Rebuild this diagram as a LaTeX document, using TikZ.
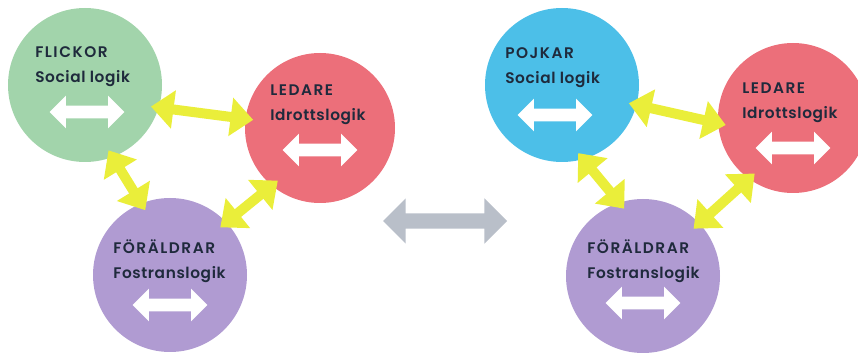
\documentclass[tikz,border=0pt]{standalone}
\usepackage{fontspec}
\setmainfont{Poppins}[BoldFont=Poppins SemiBold]
\usetikzlibrary{arrows.meta,shapes.arrows}

\definecolor{girlgreen}{HTML}{A2D4AB}
\definecolor{leadred}{HTML}{EC6F7A}
\definecolor{parentlilac}{HTML}{B09BD2}
\definecolor{boyblue}{HTML}{4CBFE8}
\definecolor{linkyellow}{HTML}{EAEE3A}
\definecolor{swapgrey}{HTML}{B9BFC9}
\definecolor{textnavy}{HTML}{1F2A3C}

\tikzset{
  party/.style={circle, fill=#1, minimum size=154pt*0.75, inner sep=0pt},
  title/.style={anchor=base west, inner sep=0pt, text=textnavy, font=\fontsize{11.5}{14}\selectfont\bfseries\addfontfeature{LetterSpace=4}},
  caps/.style={title, font=\fontsize{11.5}{14}\selectfont\bfseries\addfontfeature{LetterSpace=10}},
  swap/.style={double arrow, fill=white, minimum height=56pt, inner sep=4.5pt, double arrow head extend=7.5pt},
  link/.style={draw=linkyellow, line width=7.5pt, {Triangle[length=17pt,width=28pt]}-{Triangle[length=17pt,width=28pt]}, shorten <=-6pt, shorten >=-6pt},
}

\begin{document}
\begin{tikzpicture}[x=0.75pt,y=0.75pt,yscale=-1,xscale=1]
  \useasboundingbox (0,0) rectangle (858,356);

  %Circles, left side
  \node[party=girlgreen] (flick) at (85,85) {};
  \node[party=leadred, minimum size=150pt*0.75] (led1) at (320,128) {};
  \node[party=parentlilac] (fora1) at (170,275) {};
  %Circles, right side
  \node[party=boyblue] (pojk) at (562,85) {};
  \node[party=leadred, minimum size=150pt*0.75] (led2) at (793,118) {};
  \node[party=parentlilac] (fora2) at (643,276) {};

  %Yellow links
  \draw[link] (flick.-17) -- (led1.173);
  \draw[link] (flick.-69) -- (fora1.112);
  \draw[link] (led1.230) -- (fora1.43);
  \draw[link] (pojk.-15) -- (led2.184);
  \draw[link] (pojk.-74) -- (fora2.108);
  \draw[link] (led2.234) -- (fora2.43);

  % Text Node
  \node[caps] (flicka) at ([shift={(-50,-27)}]flick.center) {FLICKOR};
  \node[title] (flickb) at ([shift={(0,25)}]flicka.base west) {Social logik};
  \node[caps] (led1a) at ([shift={(-50,-32)}]led1.center) {LEDARE};
  \node[title] (led1b) at ([shift={(0,25)}]led1a.base west) {Idrottslogik};
  \node[caps] (fora1a) at ([shift={(-57,-21)}]fora1.center) {FÖRÄLDRAR};
  \node[title] (fora1b) at ([shift={(0,25)}]fora1a.base west) {Fostranslogik};
  \node[caps] (pojka) at ([shift={(-57,-26)}]pojk.center) {POJKAR};
  \node[title] (pojkb) at ([shift={(0,25)}]pojka.base west) {Social logik};
  \node[caps] (led2a) at ([shift={(-51,-24)}]led2.center) {LEDARE};
  \node[title] (led2b) at ([shift={(0,25)}]led2a.base west) {Idrottslogik};
  \node[caps] (fora2a) at ([shift={(-56,-22)}]fora2.center) {FÖRÄLDRAR};
  \node[title] (fora2b) at ([shift={(0,25)}]fora2a.base west) {Fostranslogik};

  %White arrows
  \node[swap] (flickx) at ([shift={(2,27)}]flick.center) {};
  \node[swap] (led1x) at ([shift={(0,22)}]led1.center) {};
  \node[swap] (fora1x) at ([shift={(0,30)}]fora1.center) {};
  \node[swap] (pojkx) at ([shift={(-7,30)}]pojk.center) {};
  \node[swap] (led2x) at ([shift={(0,30)}]led2.center) {};
  \node[swap] (fora2x) at ([shift={(0,27)}]fora2.center) {};

  %Grey arrow between the two sides
  \node[double arrow, fill=swapgrey, minimum height=93pt, inner sep=5.6pt, double arrow head extend=11.25pt] (shift) at (445,221) {};

\end{tikzpicture}
\end{document}
